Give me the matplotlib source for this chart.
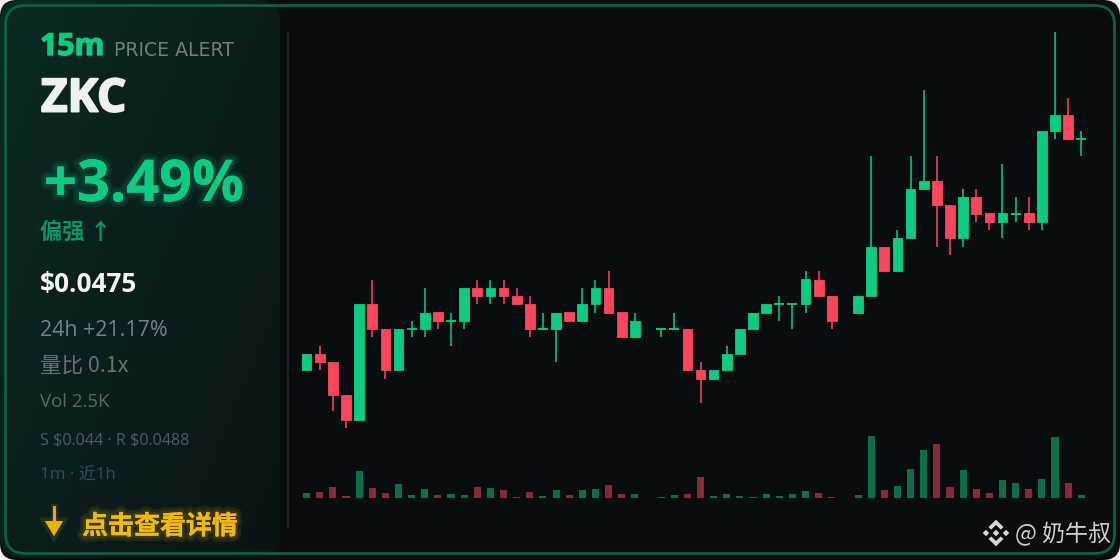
import numpy as np
import matplotlib
matplotlib.use("Agg")
import matplotlib.pyplot as plt
from matplotlib.patches import FancyBboxPatch, Polygon
import matplotlib.patheffects as pe

opens = [0.0447,0.0449,0.0448,0.0444,0.0441,0.0455,0.0452,0.0447,0.0452,0.0452,0.0454,0.0453,0.0453,0.0457,0.0456,0.0457,0.0456,0.0455,0.0452,0.0452,0.0454,
         0.0453,0.0455,0.0457,0.0454,0.0451,None,0.0452,0.0452,0.0452,0.0447,0.0446,0.0447,0.0449,0.0452,0.0454,0.0455,0.0455,0.0455,0.0458,0.0456,None,
         0.0454,0.0456,0.0462,0.0459,0.0463,0.0469,0.0470,0.0467,0.0463,0.0468,0.0466,0.0465,0.0466,0.0466,0.0465,0.0476,0.0478,0.0475]
closes = [0.0449,0.0448,0.0444,0.0441,0.0455,0.0452,0.0447,0.0452,0.0452,0.0454,0.0453,0.0453,0.0457,0.0456,0.0457,0.0456,0.0455,0.0452,0.0452,0.0454,0.0453,
          0.0455,0.0457,0.0454,0.0451,0.0453,None,0.0452,0.0452,0.0447,0.0446,0.0447,0.0449,0.0452,0.0454,0.0455,0.0455,0.0455,0.0458,0.0456,0.0453,None,
          0.0456,0.0462,0.0459,0.0463,0.0469,0.0470,0.0467,0.0463,0.0468,0.0466,0.0465,0.0466,0.0466,0.0465,0.0476,0.0478,0.0475,0.0475]
highs = [0.0449,0.0450,0.0448,0.0444,0.0455,0.0458,0.0452,0.0452,0.0453,0.0457,0.0454,0.0454,0.0457,0.0458,0.0458,0.0458,0.0457,0.0456,0.0454,0.0454,0.0454,
         0.0457,0.0458,0.0459,0.0454,0.0454,None,0.0452,0.0454,0.0452,0.0448,0.0447,0.0450,0.0452,0.0454,0.0455,0.0456,0.0455,0.0459,0.0459,0.0456,None,
         0.0456,0.0473,0.0462,0.0464,0.0473,0.0481,0.0473,0.0467,0.0469,0.0469,0.0466,0.0472,0.0468,0.0468,0.0476,0.0488,0.0480,0.0476]
lows = [0.0447,0.0447,0.0442,0.0440,0.0441,0.0451,0.0446,0.0447,0.0451,0.0451,0.0452,0.0450,0.0452,0.0455,0.0455,0.0455,0.0455,0.0451,0.0452,0.0448,0.0453,
        0.0453,0.0454,0.0454,0.0451,0.0451,None,0.0451,0.0452,0.0447,0.0443,0.0446,0.0447,0.0449,0.0452,0.0454,0.0453,0.0452,0.0454,0.0456,0.0452,None,
        0.0454,0.0456,0.0459,0.0459,0.0463,0.0469,0.0462,0.0461,0.0462,0.0465,0.0464,0.0463,0.0465,0.0464,0.0464,0.0475,0.0475,0.0473]
volumes = [4.7,6,10.7,2,26.7,10,4.7,13.7,2.7,9,3,3.7,2.7,11,9.7,8,1.3,6.3,1.7,8.3,3,
           7.7,9,13,4,4,0,1,3,3.7,21.3,1.7,3.7,1.7,1,4,2,4,6.7,5,1,0,
           3,62,8,12,29,47.7,53.7,11,28,9,5.3,18,15,9,19,61,15,2.7]

label_tf = "15m"
label_alert = "PRICE ALERT"
symbol = "ZKC"
change = "+3.49%"
bias = "偏强 ↑"
price_txt = "$0.0475"
info_lines = ["24h +21.17%", "量比 0.1x", "Vol 2.5K", "S $0.044 · R $0.0488", "1m · 近1h"]
cta = "点击查看详情"
watermark = "@ 奶牛叔"

GREEN = "#0ecb81"
RED = "#fb465f"
W, H = 1120, 560
CJK = ["Noto Sans CJK SC", "DejaVu Sans"]
LATIN_CJK = ["Open Sans", "Noto Sans CJK SC", "DejaVu Sans"]
plt.rcParams["font.family"] = LATIN_CJK

fig = plt.figure(figsize=(W / 100, H / 100), dpi=100, facecolor="#f4f4f4")
bg = fig.add_axes([0, 0, 1, 1])
bg.set_xlim(0, W); bg.set_ylim(H, 0); bg.axis("off")

def rbox(x0, y0, x1, y1, r, **kw):
    p = FancyBboxPatch((x0 + r, y0 + r), x1 - x0 - 2 * r, y1 - y0 - 2 * r,
                       boxstyle=f"round,pad={r},rounding_size={r}", **kw)
    bg.add_patch(p)
    return p

# Card silhouette
rbox(0, 0, 1120, 560, 17, fc="#0a0d10", ec="none", zorder=1)

# Left panel with a soft diagonal gradient
gx, gy = np.meshgrid(np.linspace(0, 1, 140), np.linspace(0, 1, 140))
g = (0.55 * gx + 0.45 * gy)[:, :, None]
c0 = np.array([0x0b, 0x2a, 0x25]) / 255
c1 = np.array([0x0a, 0x13, 0x15]) / 255
img = bg.imshow(c0 + (c1 - c0) * g, extent=(0, 280, 560, 0), aspect="auto", zorder=2)
clip = rbox(0, 0, 280, 558, 22, fc="none", ec="none", zorder=2)
img.set_clip_path(clip)
bg.set_xlim(0, W); bg.set_ylim(H, 0)

# Border and divider
rbox(5.5, 5.5, 1114.5, 553.5, 20, fc="none", ec="#0d5f45", lw=2, zorder=3)
bg.plot([288, 288], [32, 527], color="#1d2329", lw=1.5, zorder=3)

# Price axes: 32 px -> 0.0488, 428 px -> 0.0440
ax = fig.add_axes([0, 1 - 428 / H, 1, (428 - 32) / H])
ax.set_xlim(-306.6 / 13.13, (W - 306.6) / 13.13)
ax.set_ylim(0.0440, 0.0488)
ax.axis("off")
# Volume axes: baseline 498 px, 1 unit = 1 px
vx = fig.add_axes([0, 1 - 498 / H, 1, 65 / H])
vx.set_xlim(ax.get_xlim()); vx.set_ylim(0, 65)
vx.axis("off")

for i, (o, c, h, l, v) in enumerate(zip(opens, closes, highs, lows, volumes)):
    if o is None:
        continue
    col = GREEN if c >= o else RED
    ax.vlines(i, l, h, color=col, lw=1.25, alpha=0.9, zorder=3)
    if o == c:
        ax.hlines(o, i - 0.375, i + 0.375, color=col, lw=1.4, alpha=0.95, zorder=4)
    else:
        ax.bar(i, abs(c - o), bottom=min(o, c), width=0.74, color=col, zorder=4,
               edgecolor=col, lw=0.6)
    if v > 0:
        vx.bar(i, v, width=0.54, color=col, alpha=0.52, lw=0)

def T(x, y, s, size, color, weight="normal", family=None, effects=None):
    t = bg.text(x, y, s, fontsize=size, color=color, fontweight=weight, va="baseline",
                ha="left", zorder=6, family=family or LATIN_CJK, parse_math=False)
    if effects:
        t.set_path_effects(effects)
    return t

def glow(col, widths=(6, 3), alpha=0.10):
    return [pe.withStroke(linewidth=w, foreground=col, alpha=alpha) for w in widths] + [pe.Normal()]

def heavy(col, w):
    return [pe.withStroke(linewidth=w, foreground=col)]

T(40, 55, label_tf, 21.8, GREEN, "bold", family=["Open Sans"], effects=heavy(GREEN, 1.0))
T(113.5, 55.5, label_alert, 13.6, "#727d88", family=["DejaVu Sans"])
T(41, 111.5, symbol, 33, "#eef0f3", "bold", family=["Open Sans"], effects=heavy("#eef0f3", 1.4))
T(44, 201, change, 41.5, GREEN, "bold", family=["Open Sans"], effects=glow(GREEN, (8, 4), 0.10))
T(40, 239, bias, 16, "#0c9463", "bold", family=CJK)
T(40, 292, price_txt, 18.8, "#f2f4f6", "bold", family=["Open Sans"])
T(40, 336, info_lines[0], 15.4, "#75818e", family=["Open Sans"])
T(40, 372, info_lines[1], 15.5, "#66717d", family=CJK)
T(40, 407, info_lines[2], 13.4, "#596674", family=["Open Sans"])
T(40, 444, info_lines[3], 11.6, "#4d5a68", family=LATIN_CJK)
T(40, 480, info_lines[4], 12.2, "#344960", family=LATIN_CJK)

arrow_glow = [pe.withStroke(linewidth=5, foreground="#eab308", alpha=0.12), pe.Normal()]
bg.plot([54, 54], [507, 523], color="#eab308", lw=1.8, zorder=6, path_effects=arrow_glow)
bg.add_patch(Polygon([[45, 521], [63, 521], [54, 536]], closed=True, fc="#eab308", ec="none", zorder=6,
                     path_effects=arrow_glow))
T(82, 534, cta, 18.7, "#f0b90b", "bold", family=CJK, effects=glow("#f0b90b", (8, 4), 0.10))

# Watermark: diamond logo and handle
cx, cy = 996, 533
logo = "#d6d6d6"
for s in (-1, 1):
    bg.add_patch(Polygon([[cx, cy + s * 13.3], [cx + 7.5, cy + s * 6], [cx + 4.8, cy + s * 3.4],
                          [cx, cy + s * 8], [cx - 4.8, cy + s * 3.4], [cx - 7.5, cy + s * 6]],
                         fc=logo, ec="none", zorder=6))
    bg.add_patch(Polygon([[cx + s * 13.3, cy], [cx + s * 10, cy - 3.2], [cx + s * 6.8, cy], [cx + s * 10, cy + 3.2]],
                         fc=logo, ec="none", zorder=6))
bg.add_patch(Polygon([[cx - 3.3, cy], [cx, cy - 3.3], [cx + 3.3, cy], [cx, cy + 3.3]], fc=logo, ec="none", zorder=6))
T(1015, 541, watermark, 16.6, "#cfcfcf", family=CJK)

fig.savefig("out.png", dpi=100, facecolor=fig.get_facecolor())
